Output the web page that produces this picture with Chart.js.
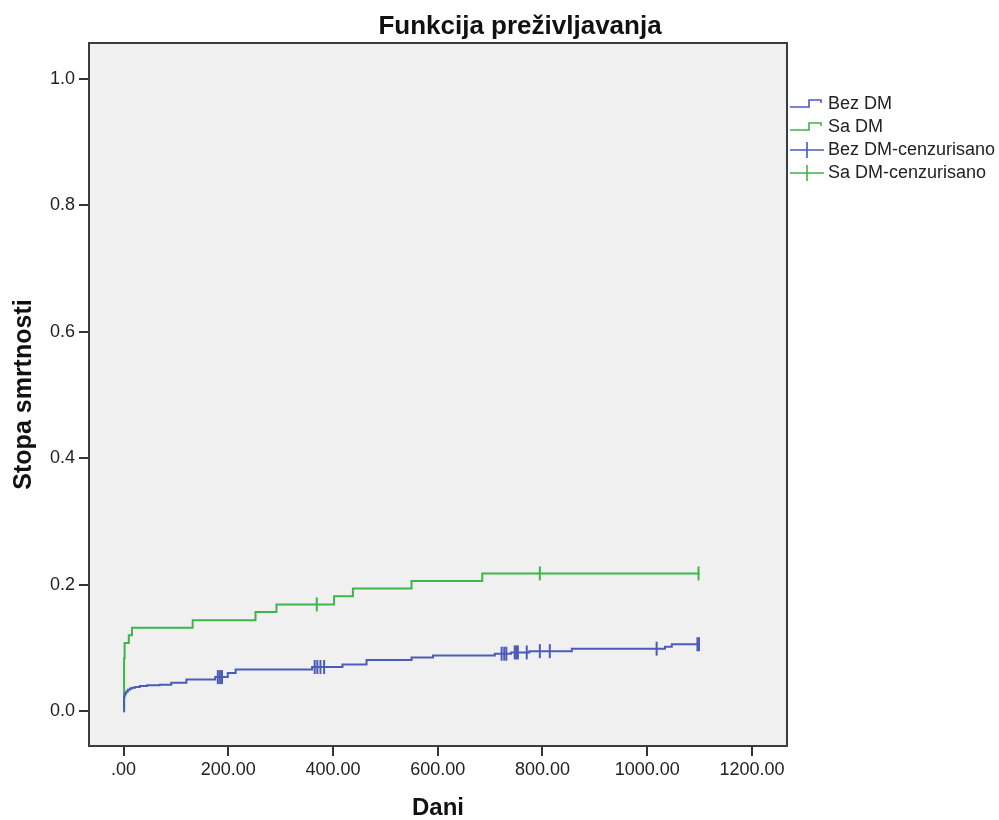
<!DOCTYPE html>
<html>
<head>
<meta charset="utf-8">
<script src="https://cdn.jsdelivr.net/npm/chart.js@4.4.1/dist/chart.umd.min.js"></script>
<style>
  html, body { margin: 0; padding: 0; background: #fff; }
  #wrap { width: 999px; height: 820px; }
</style>
</head>
<body>
<div id="wrap"><canvas id="kmChart"></canvas></div>
<script>
// Kaplan-Meier: dani i kumulativna stopa smrtnosti
var bezDmDani  = [0, 1, 2, 3, 5, 8, 12, 16, 22, 31, 45, 69, 91, 120, 175, 199, 214, 360, 418, 464, 550, 591, 709, 740, 775, 856, 1034, 1047, 1100];
var bezDmStopa = [0, 0.023, 0.026, 0.028, 0.031, 0.034, 0.036, 0.037, 0.0385, 0.040, 0.041, 0.042, 0.045, 0.050, 0.054, 0.0606, 0.066, 0.070, 0.074, 0.081, 0.085, 0.088, 0.091, 0.093, 0.095, 0.099, 0.102, 0.106, 0.106];
var saDmDani   = [0, 1, 2, 10, 16, 132, 252, 292, 402, 438, 550, 685, 1100];
var saDmStopa  = [0, 0.084, 0.108, 0.120, 0.132, 0.144, 0.157, 0.169, 0.182, 0.194, 0.206, 0.218, 0.218];

// cenzurisani slucajevi (dani)
var bezDmCenz = [180, 184, 188, 365, 370, 376, 383, 722, 727, 731, 747, 750, 753, 770, 795, 814, 1018, 1096, 1099];
var saDmCenz  = [369, 795, 1098];

var xTicks = [0, 200, 400, 600, 800, 1000, 1200];
var yTicks = [0, 0.2, 0.4, 0.6, 0.8, 1.0];
var legendLabels = ['Bez DM', 'Sa DM', 'Bez DM-cenzurisano', 'Sa DM-cenzurisano'];

var BLUE = '#4a5cb8';
var GREEN = '#3db54a';
var FONT = '"Liberation Sans", Arial, sans-serif';

function toPoints(xs, ys) {
    return xs.map(function(x, i) { return {x: x, y: ys[i]}; });
}
function stopaU(dani, stopa, t) {
    var v = 0;
    for (var i = 0; i < dani.length; i++) {
        if (dani[i] <= t) v = stopa[i];
    }
    return v;
}
function cenzPoints(cenz, dani, stopa) {
    return cenz.map(function(t) { return {x: t, y: stopaU(dani, stopa, t)}; });
}

var framePlugin = {
    id: 'frame',
    beforeDatasetsDraw: function(chart) {
        var a = chart.chartArea, ctx = chart.ctx;
        ctx.save();
        ctx.fillStyle = '#f0f0f0';
        ctx.fillRect(a.left, a.top, a.right - a.left, a.bottom - a.top);
        ctx.restore();
    },
    afterDraw: function(chart) {
        var a = chart.chartArea, ctx = chart.ctx;
        ctx.save();
        ctx.strokeStyle = '#3c3c3c';
        ctx.lineWidth = 2;
        ctx.strokeRect(a.left, a.top, a.right - a.left, a.bottom - a.top);

        // naslov
        ctx.fillStyle = '#111';
        ctx.font = 'bold 26px ' + FONT;
        ctx.textAlign = 'center';
        ctx.textBaseline = 'middle';
        ctx.fillText('Funkcija preživljavanja', 520, 27);

        // legenda
        var colors = [BLUE, GREEN, BLUE, GREEN];
        var x0 = 790, x1 = 824;
        ctx.font = '18px ' + FONT;
        ctx.textAlign = 'left';
        legendLabels.forEach(function(lbl, i) {
            var y = 104 + i * 23;
            ctx.strokeStyle = colors[i];
            ctx.lineWidth = 1.6;
            ctx.beginPath();
            if (i < 2) {
                ctx.moveTo(x0, y + 3);
                ctx.lineTo(x0 + 19, y + 3);
                ctx.lineTo(x0 + 19, y - 4);
                ctx.lineTo(x0 + 31, y - 4);
                ctx.lineTo(x0 + 31, y - 1);
            } else {
                ctx.moveTo(x0, y);
                ctx.lineTo(x1, y);
                ctx.moveTo(x0 + 17, y - 8);
                ctx.lineTo(x0 + 17, y + 8);
            }
            ctx.stroke();
            ctx.fillStyle = '#222';
            ctx.fillText(lbl, 828, y);
        });
        ctx.restore();
    }
};

var ctx = document.getElementById('kmChart').getContext('2d');
var kmChart = new Chart(ctx, {
    type: 'line',
    data: {
        datasets: [{
            label: legendLabels[0],
            data: toPoints(bezDmDani, bezDmStopa),
            borderColor: BLUE,
            borderWidth: 2,
            stepped: 'before',
            pointRadius: 0,
            fill: false
        }, {
            label: legendLabels[1],
            data: toPoints(saDmDani, saDmStopa),
            borderColor: GREEN,
            borderWidth: 2,
            stepped: 'before',
            pointRadius: 0,
            fill: false
        }, {
            label: legendLabels[2],
            data: cenzPoints(bezDmCenz, bezDmDani, bezDmStopa),
            showLine: false,
            pointStyle: 'line',
            rotation: 90,
            pointRadius: 7,
            pointBorderWidth: 2,
            borderColor: BLUE,
            backgroundColor: BLUE
        }, {
            label: legendLabels[3],
            data: cenzPoints(saDmCenz, saDmDani, saDmStopa),
            showLine: false,
            pointStyle: 'line',
            rotation: 90,
            pointRadius: 7,
            pointBorderWidth: 2,
            borderColor: GREEN,
            backgroundColor: GREEN
        }]
    },
    options: {
        responsive: true,
        maintainAspectRatio: false,
        animation: false,
        layout: { padding: { top: 43, right: 212, bottom: 0, left: 0 } },
        plugins: {
            legend: { display: false },
            title: { display: false },
            tooltip: { enabled: false }
        },
        scales: {
            x: {
                type: 'linear',
                min: -66,
                max: 1267,
                afterBuildTicks: function(s) { s.ticks = xTicks.map(function(v) { return {value: v}; }); },
                afterFit: function(s) { s.height = 74; },
                ticks: {
                    color: '#222',
                    font: { family: FONT, size: 18 },
                    padding: 3,
                    maxRotation: 0,
                    callback: function(v) { return v === 0 ? '.00' : v.toFixed(2); }
                },
                grid: { display: true, drawOnChartArea: false, drawTicks: true, tickLength: 10, color: '#333', lineWidth: 2 },
                border: { display: false },
                title: {
                    display: true,
                    text: 'Dani',
                    color: '#111',
                    font: { family: FONT, size: 24, weight: 'bold', lineHeight: 1 },
                    padding: { top: 0, bottom: 0 }
                }
            },
            y: {
                min: -0.055,
                max: 1.057,
                afterBuildTicks: function(s) { s.ticks = yTicks.map(function(v) { return {value: v}; }); },
                afterFit: function(s) { s.width = 89; },
                ticks: {
                    color: '#222',
                    font: { family: FONT, size: 18 },
                    padding: 4,
                    callback: function(v) { return v.toFixed(1); }
                },
                grid: { display: true, drawOnChartArea: false, drawTicks: true, tickLength: 10, color: '#333', lineWidth: 2 },
                border: { display: false },
                title: {
                    display: true,
                    text: 'Stopa smrtnosti',
                    color: '#111',
                    font: { family: FONT, size: 25, weight: 'bold' },
                    padding: { top: 9, bottom: 0 }
                }
            }
        }
    },
    plugins: [framePlugin]
});
</script>
</body>
</html>
